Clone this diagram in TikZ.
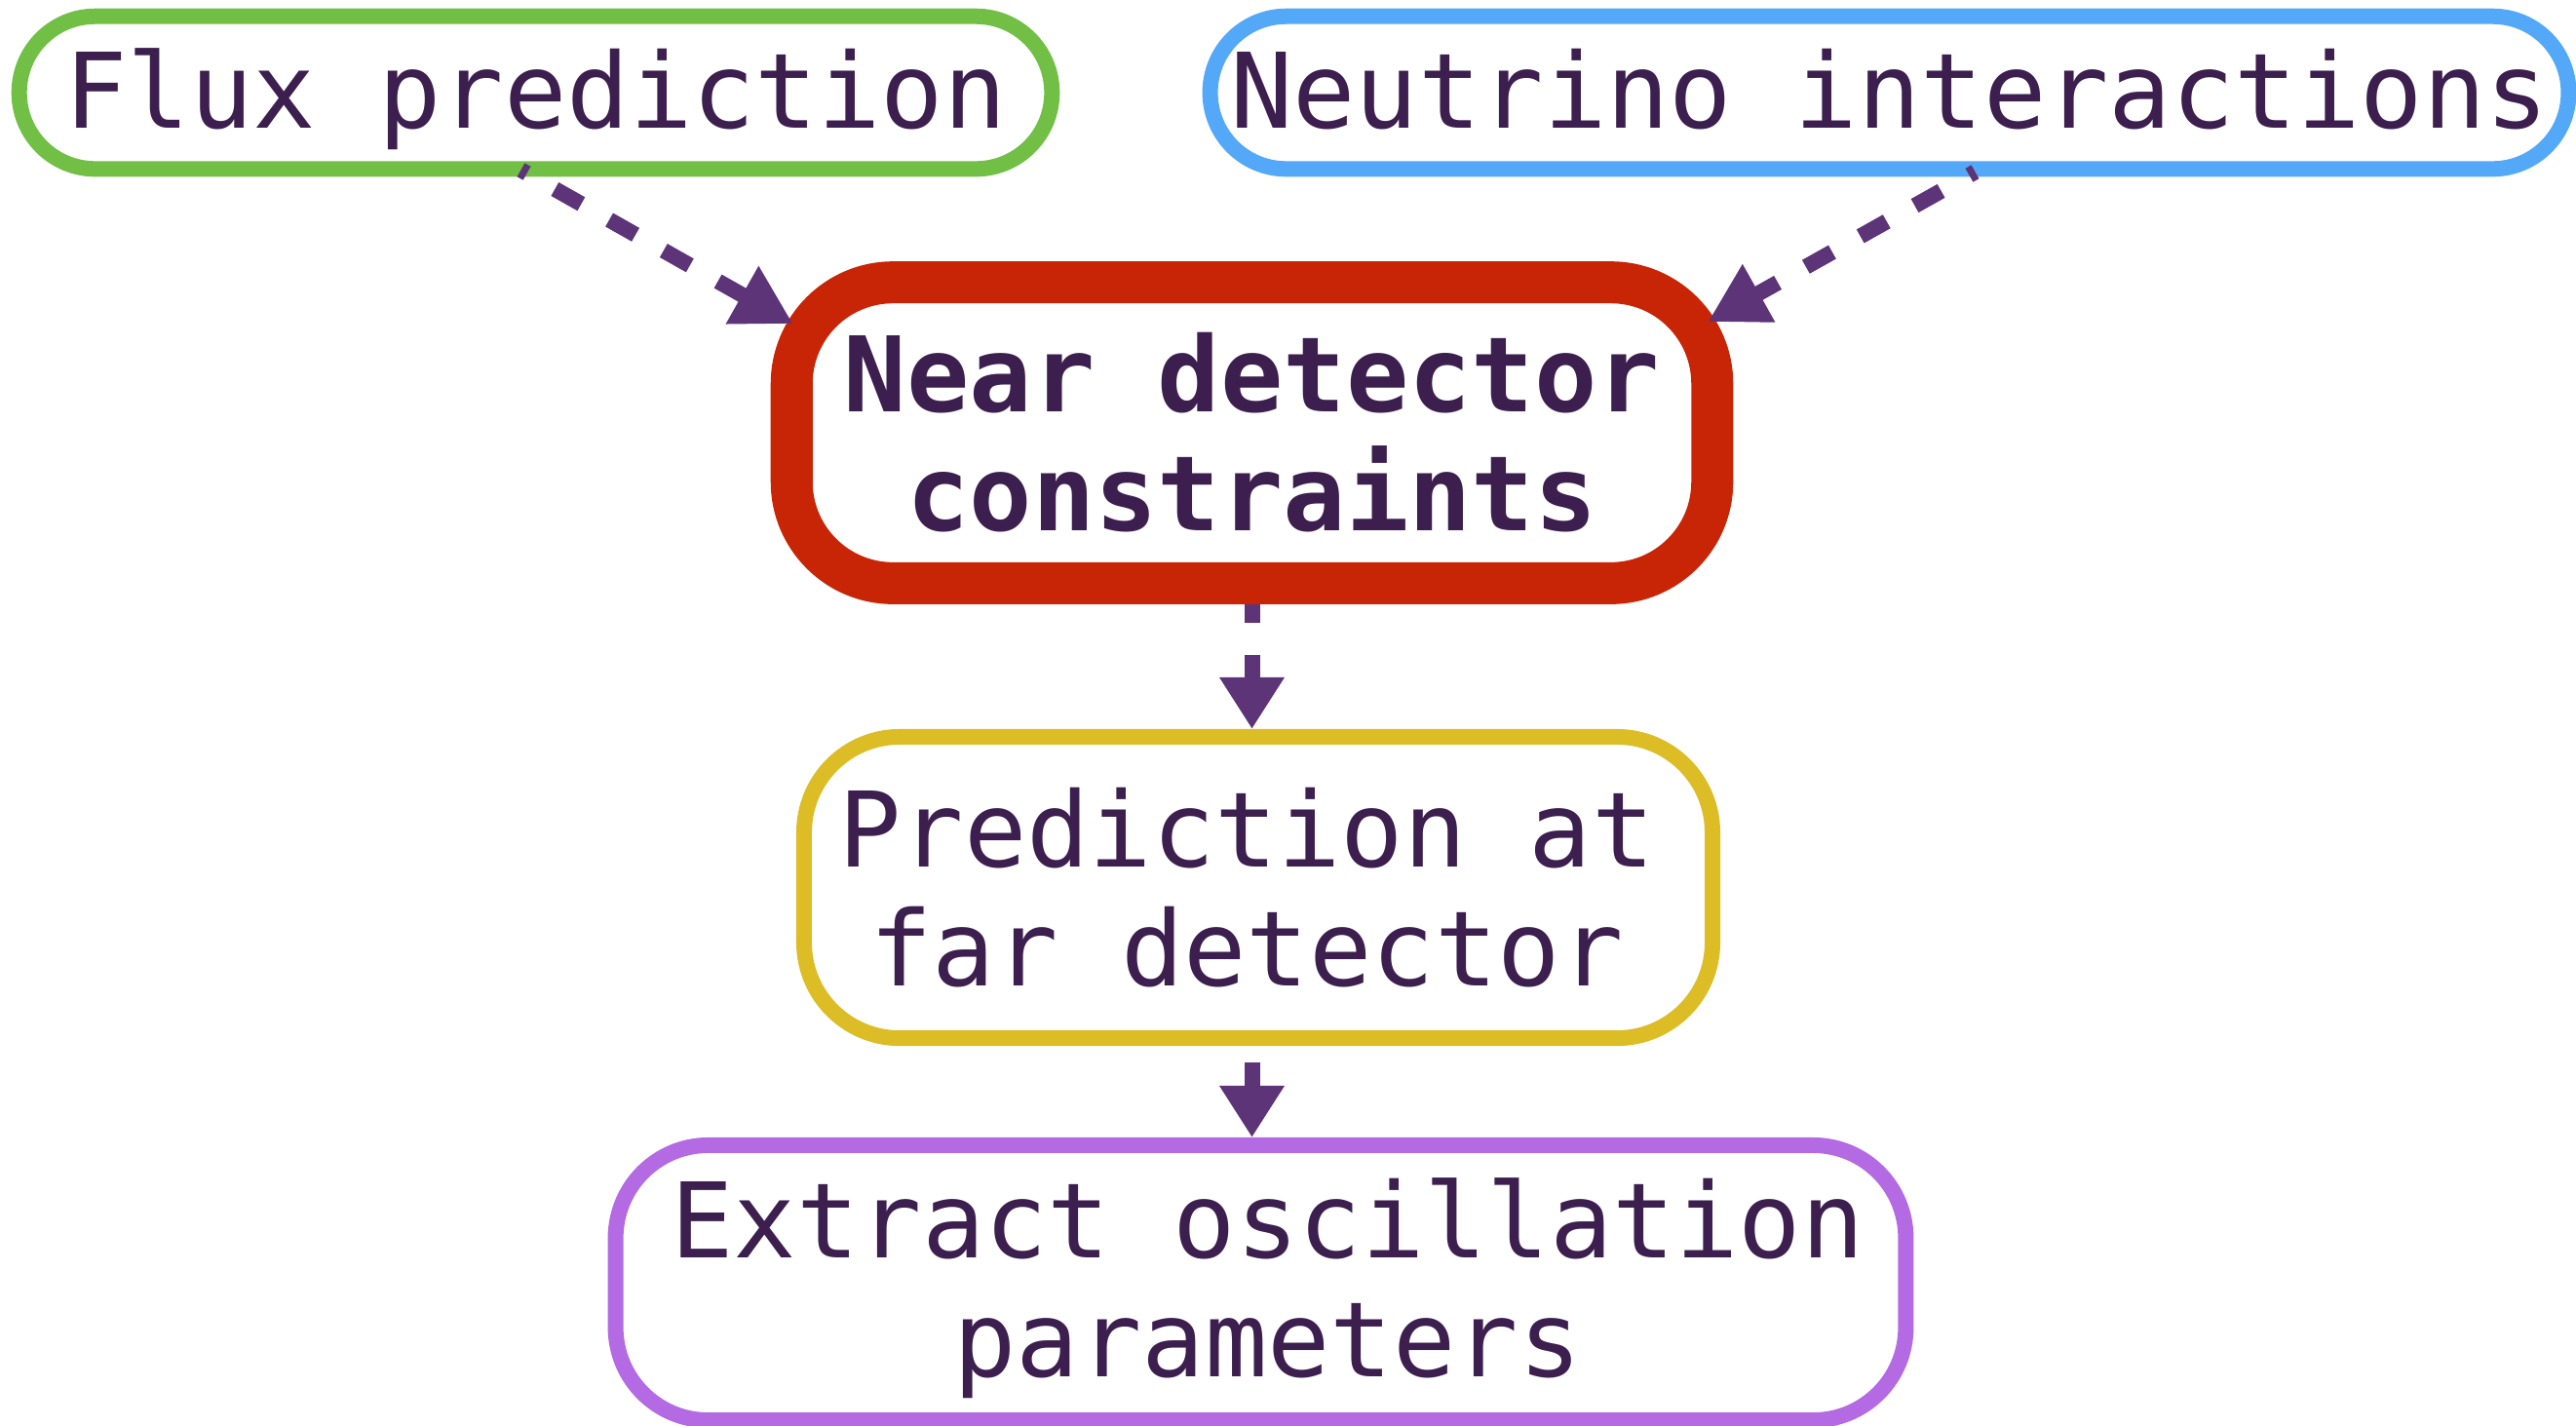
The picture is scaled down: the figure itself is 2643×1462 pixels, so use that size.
\documentclass[tikz,border=0pt]{standalone}
\usepackage{fontspec}
\setmonofont{DejaVu Sans Mono}
\usetikzlibrary{arrows.meta}

\definecolor{inkText}{HTML}{3C1F4F}
\definecolor{arrowPurple}{HTML}{5E3479}
\definecolor{fluxGreen}{HTML}{71BF45}
\definecolor{nuBlue}{HTML}{54A8F8}
\definecolor{ndRed}{HTML}{C72506}
\definecolor{fdYellow}{HTML}{DCBD26}
\definecolor{oscViolet}{HTML}{B36AE2}

\tikzset{
  stage/.style={draw, fill=white, text=inkText, inner sep=0pt, align=center,
    font=\ttfamily\fontsize{30.43pt}{34.7pt}\selectfont},
  flow/.style={draw=arrowPurple, line width=0.16cm, line cap=butt,
    dash pattern=on 0.31cm off 0.33cm},
  flowdown/.style={flow, -{Triangle[length=0.53cm,width=0.63cm]}},
  flowslant/.style={flow, dash phase=0.24cm, -{Triangle[length=0.6cm,width=0.64cm]}},
  arrows={[fill=arrowPurple]}
}

\begin{document}
\begin{tikzpicture}[x=0.01cm, y=0.01cm]
  \useasboundingbox (0,-1462) rectangle (2643,0);

  % input boxes
  \node[stage, draw=fluxGreen, line width=0.16cm, rounded corners=0.78cm,
        minimum width=10.59cm, minimum height=1.565cm,
        text height=0.97cm, text depth=0.25cm]
        (flux) at (549.5,-95) {Flux prediction};
  \node[stage, draw=nuBlue, line width=0.16cm, rounded corners=0.78cm,
        minimum width=13.93cm, minimum height=1.565cm,
        text height=0.97cm, text depth=0.25cm]
        (nuint) at (1938.5,-95) {Neutrino interactions};

  % central constraint box
  \node[stage, draw=ndRed, line width=0.43cm, rounded corners=1.04cm,
        minimum width=9.44cm, minimum height=3.085cm,
        font=\ttfamily\bfseries\fontsize{30.43pt}{34.7pt}\selectfont]
        (near) at (1284.5,-444) {Near detector\\constraints};

  % far detector prediction (lines padded on the right to sit a little left of centre)
  \node[stage, draw=fdYellow, line width=0.16cm, rounded corners=0.98cm,
        minimum width=9.315cm, minimum height=3.09cm]
        (far) at (1291,-910.5) {Prediction at\hspace*{0.24cm}\\far detector\hspace*{0.24cm}};

  % oscillation fit
  \node[stage, draw=oscViolet, line width=0.16cm, rounded corners=0.95cm,
        minimum width=13.23cm, minimum height=2.82cm, text depth=0.1cm]
        (osc) at (1293.5,-1316) {\hspace*{0.14cm}Extract oscillation\\\hspace*{0.14cm}parameters};

  % connectors
  \draw[flowslant] ([shift={(-15,7)}]flux.south) -- ([shift={(23,-64)}]near.north west);
  \draw[flowslant] ([shift={(88,5)}]nuint.south) -- ([shift={(-26,-62)}]near.north east);
  \draw[flowdown, dash phase=0.12cm] (near.south) -- (near.south |- far.north);
  \draw[flowdown, dash phase=0.47cm] (near.south |- far.south) -- (near.south |- osc.north);
\end{tikzpicture}
\end{document}
